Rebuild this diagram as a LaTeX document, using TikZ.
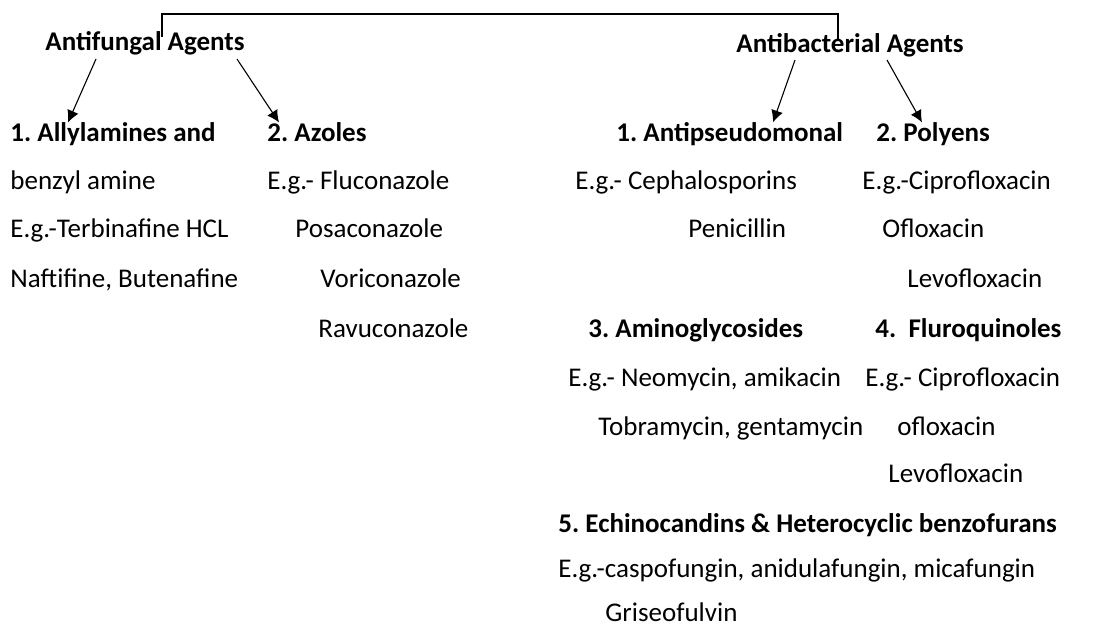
\documentclass[tikz,border=0pt]{standalone}
\usepackage{fontspec}
\setmainfont{Carlito}
\usepackage{tikz}
\usetikzlibrary{arrows.meta,calc}
\frenchspacing

\begin{document}
\begin{tikzpicture}[x=0.5pt, y=-0.5pt,
    item/.style={anchor=mid west, inner sep=0pt, font=\fontsize{13.5}{16}\selectfont},
    head/.style={item, font=\fontsize{13.5}{16}\selectfont\bfseries},
    arr/.style={-{Latex[length=6pt, width=6pt]}, line width=0.55pt}]
    \useasboundingbox (0,0) rectangle (1111,626);

    % Hauptgruppen
    \node[head] (fung) at (45,46) {Antifungal Agents};
    \node[head] (bact) at (736,48) {Antibacterial Agents};

    % Verbindung oben
    \coordinate (L) at (162,37);
    \coordinate (R) at (838,40);
    \draw[line width=0.6pt] (L) -- (L |- 0,14) -- (R |- 0,14) -- (R);

    % Untergruppen
    \node[head] (ally) at (10,137) {1. Allylamines and};
    \node[head] (azol) at (267,137) {2. Azoles};
    \node[head] (anps) at (616,137) {1. Antipseudomonal};
    \node[head] (poly) at (876,137) {2. Polyens};
    \node[head] (amin) at (588,333) {3. Aminoglycosides};
    \node[head] (flur) at (875,333) {4.\ \ Fluroquinoles};
    \node[head] (echi) at (558,528) {5. Echinocandins \& Heterocyclic benzofurans};

    % Beispiele
    \foreach \n/\x/\y/\t in {
        f1/10/185/{benzyl amine},
        f2/10/233/{E.g.-Terbinafine HCL},
        f3/10/283/{Naftifine, Butenafine},
        z1/267/185/{E.g.- Fluconazole},
        z2/295/233/{Posaconazole},
        z3/320/283/{Voriconazole},
        z4/318/333/{Ravuconazole},
        p1/575/185/{E.g.- Cephalosporins},
        p2/688/233/{Penicillin},
        y1/862/185/{E.g.-Ciprofloxacin},
        y2/882/233/{Ofloxacin},
        y3/907/283/{Levofloxacin},
        m1/568/382/{E.g.- Neomycin, amikacin},
        m2/598/431/{Tobramycin, gentamycin},
        q1/865/382/{E.g.- Ciprofloxacin},
        q2/897/431/{ofloxacin},
        q3/888/478/{Levofloxacin},
        e1/558/573/{E.g.-caspofungin, anidulafungin, micafungin},
        e2/605/617/{Griseofulvin}} {
        \node[item] (\n) at (\x,\y) {\t};
    }

    % Pfeile
    \coordinate (fa) at (96,59);
    \coordinate (fb) at (237,59);
    \coordinate (ba) at (795,60);
    \coordinate (bb) at (887,60);
    \draw[arr] (fa) -- (ally.north west -| 68,111);
    \draw[arr] (fb) -- (azol.north west -| 279,111);
    \draw[arr] (ba) -- (anps.north west -| 773,118);
    \draw[arr] (bb) -- (poly.north west -| 922,118);
\end{tikzpicture}
\end{document}
